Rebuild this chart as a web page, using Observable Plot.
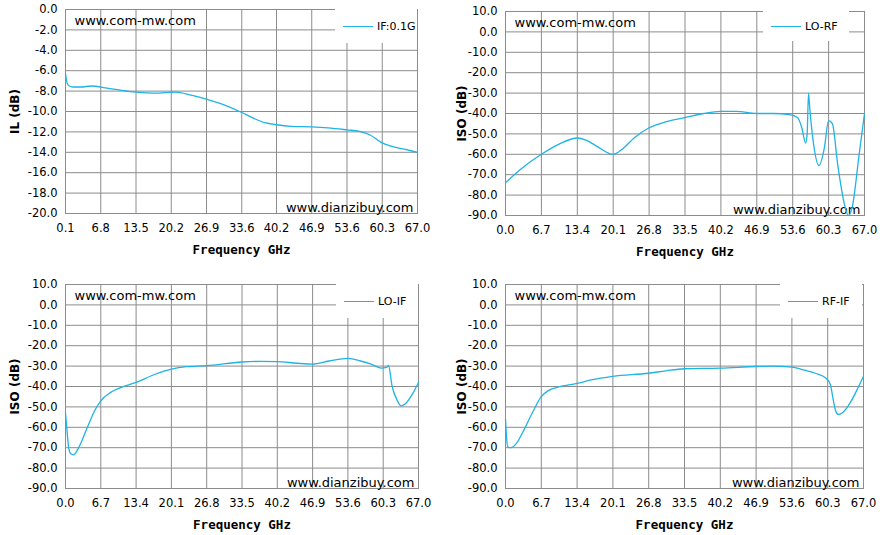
<!DOCTYPE html>
<html><head><meta charset="utf-8">
<script src="https://cdn.jsdelivr.net/npm/d3@7"></script>
<script src="https://cdn.jsdelivr.net/npm/@observablehq/plot@0.6"></script>
<style>
body{margin:0;background:#fff;}
#wrap{position:relative;width:894px;height:535px;}
.panel{position:absolute;width:447px;height:267px;}
.panel svg{font-family:"DejaVu Sans",Verdana,sans-serif;}
g[aria-label="y-axis label"] text{font-weight:bold;font-size:12px;}
g[aria-label="x-axis label"] text{font-family:"DejaVu Sans Mono",monospace;font-weight:bold;font-size:12.5px;}
.leg{position:absolute;background:#fff;font:11px "DejaVu Sans",Verdana,sans-serif;display:flex;align-items:center;}
.leg span.ln{display:inline-block;width:30px;height:0;border-top:1.3px solid #1fb3e6;margin-right:4px;}
</style></head><body><div id="wrap"></div>
<script>
// IL (IF:0.1G)
const ilFreq = [0.1,0.4,0.8,1.5,3,5,8,10.5,13.5,17,21,24,27,30,33.6,36,38,40.2,43,46.9,50,53.6,56,58,60,62,64.5,67];
const ilVal  = [-6.3,-7.2,-7.5,-7.6,-7.6,-7.5,-7.7,-7.9,-8.1,-8.2,-8.1,-8.4,-8.8,-9.3,-10.1,-10.7,-11.1,-11.3,-11.45,-11.5,-11.6,-11.8,-11.95,-12.3,-13.0,-13.4,-13.7,-14.0];
// LO-RF
const lorfFreq = [0,3,6.7,10,13.4,15,17,20.1,22,24,26.8,30,33.5,37,40.2,43,46.9,50,53,54.5,55.3,56,56.3,56.55,56.8,57.5,58.5,59.5,60.3,61,62,63.3,64,64.7,66,67];
const lorfVal  = [-74,-67,-60,-55,-52,-53,-56,-60,-57,-52,-47,-44,-42,-40,-39,-39,-40,-40,-40.5,-42,-47,-54.5,-50,-30,-38,-55,-65.5,-57,-43.5,-45,-65,-85,-90,-86,-60,-40];
// LO-IF
const loifFreq = [0,0.3,0.6,1,1.5,2.5,4,5.5,6.7,8.5,10,13.4,17,20.1,23,26.8,33.5,37,40.2,44,46.9,50,53.6,56,58,60,61,61.3,62,63,63.7,64.5,66,67];
const loifVal  = [-53,-62,-70,-73,-73.5,-70,-61,-52,-47,-43,-41,-38,-34,-31.5,-30.3,-29.8,-28,-27.7,-27.8,-28.6,-29,-27.5,-26.2,-27.5,-29,-31,-30.5,-29.7,-40,-47,-49.5,-48.5,-43,-38];
// RF-IF
const rfifFreq = [0,0.2,0.4,1,2,3.5,5,6.7,8,9.5,13.4,16,20.1,26.8,30,33.5,40.2,46.9,50,53.6,56,58,60,60.8,61.3,61.8,62.3,63,64.5,66,67];
const rfifVal  = [-56,-65,-69.5,-70,-68,-61,-53,-45,-42,-40.5,-38.5,-36.8,-35,-33.5,-32.3,-31.3,-31,-30.2,-30,-30.5,-32,-33.5,-36,-39,-46,-52,-53.7,-53,-48,-40.5,-35];

const xTicksIL = [0.1,6.8,13.5,20.2,26.9,33.6,40.2,46.9,53.6,60.3,67.0];
const xTicksISO = [0,6.7,13.4,20.1,26.8,33.5,40.2,46.9,53.6,60.3,67.0];
const yTicksIL = d3.range(0,-20.1,-2);
const yTicksISO = d3.range(10,-90.1,-10);

const panels = [
  {left:0,top:0,freq:ilFreq,val:ilVal,xt:xTicksIL,xd:[0.1,67],yt:yTicksIL,yd:[-20,0],ylab:"IL (dB)",leg:"IF:0.1G",m:[9,30,54,65],legPos:[335,9,82,34]},
  {left:447,top:0,freq:lorfFreq,val:lorfVal,xt:xTicksISO,xd:[0,67],yt:yTicksISO,yd:[-90,10],ylab:"ISO (dB)",leg:"LO-RF",m:[11,30,52,58],legPos:[316,11,86,30]},
  {left:0,top:267,freq:loifFreq,val:loifVal,xt:xTicksISO,xd:[0,67],yt:yTicksISO,yd:[-90,10],ylab:"ISO (dB)",leg:"LO-IF",m:[17,29,46,65],legPos:[336,17,82,34]},
  {left:447,top:267,freq:rfifFreq,val:rfifVal,xt:xTicksISO,xd:[0,67],yt:yTicksISO,yd:[-90,10],ylab:"ISO (dB)",leg:"RF-IF",m:[17,31,46,58],legPos:[333,17,82,34]}
];

const wrap = document.getElementById("wrap");
for (const p of panels) {
  const data = p.freq.map((f,i)=>({f, v:p.val[i]}));
  const [mt,mr,mb,ml] = p.m;
  const chart = Plot.plot({
    width:447, height:267, marginTop:mt, marginRight:mr, marginBottom:mb, marginLeft:ml,
    style:{fontSize:"11.5px", color:"#000"},
    x:{domain:p.xd},
    y:{domain:p.yd},
    marks:[
      Plot.gridX(p.xt,{stroke:"#8c8c8c",strokeOpacity:1}),
      Plot.gridY(p.yt,{stroke:"#8c8c8c",strokeOpacity:1}),
      Plot.frame({stroke:"#8c8c8c"}),
      Plot.axisX({ticks:p.xt,tickSize:0,tickPadding:10,tickFormat:d=>d.toFixed(1),label:"Frequency GHz",labelAnchor:"center",labelArrow:"none",labelOffset:40}),
      Plot.axisY({ticks:p.yt,tickSize:0,tickPadding:8,tickFormat:d=>d.toFixed(1),label:p.ylab,labelAnchor:"center",labelArrow:"none",labelOffset:ml-10}),
      Plot.text(["www.com-mw.com"],{frameAnchor:"top-left",dx:9,dy:6,fontSize:13,fill:"#000"}),
      Plot.text(["www.dianzibuy.com"],{frameAnchor:"bottom-right",dx:-4,dy:-2,fontSize:13,fill:"#000"}),
      Plot.line(data,{x:"f",y:"v",stroke:"#1fb3e6",strokeWidth:1.3,curve:"monotone-x"})
    ]
  });
  const div = document.createElement("div");
  div.className="panel"; div.style.left=p.left+"px"; div.style.top=p.top+"px";
  div.appendChild(chart);
  const lg = document.createElement("div");
  lg.className="leg";
  const [lx,ly,lw,lh]=p.legPos;
  Object.assign(lg.style,{left:lx+"px",top:ly+"px",width:lw+"px",height:lh+"px",paddingLeft:"8px",boxSizing:"border-box"});
  lg.innerHTML='<span class="ln"></span>'+p.leg;
  div.appendChild(lg);
  wrap.appendChild(div);
}
</script></body></html>
